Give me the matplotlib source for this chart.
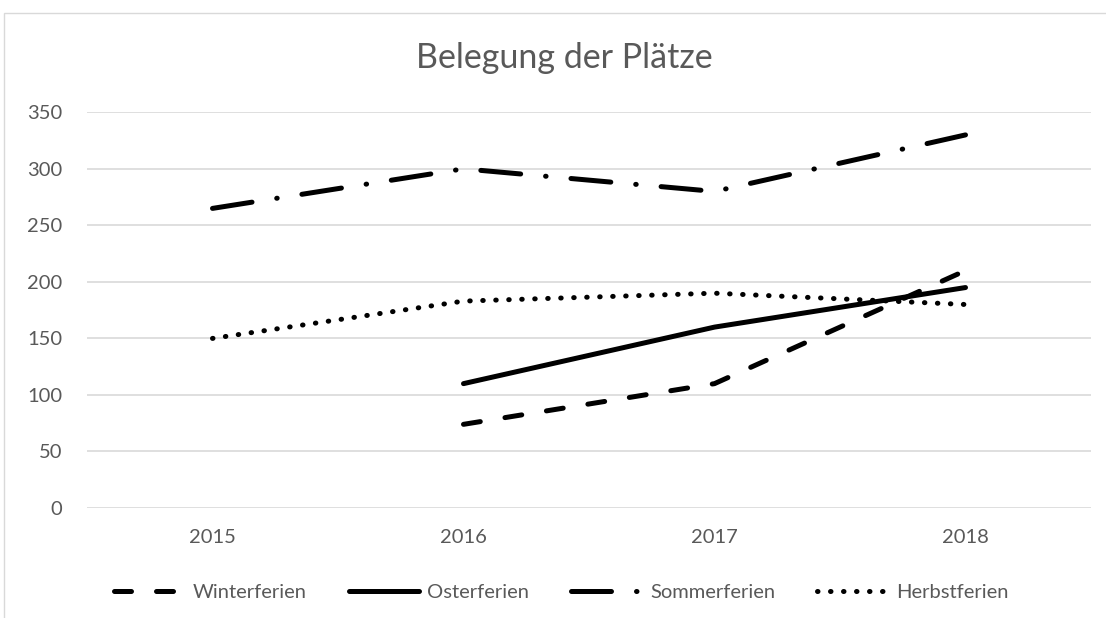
import matplotlib.pyplot as plt
from matplotlib.patches import Rectangle

# Data
years = ['2015', '2016', '2017', '2018']
winter = [None, 74, 110, 210]
ostern = [None, 110, 160, 195]
sommer = [265, 300, 280, 330]
herbst = [150, 183, 190, 180]

grey = '#595959'
grid = '#d9d9d9'
plt.rcParams['font.family'] = ['Lato', 'DejaVu Sans']

fig = plt.figure(figsize=(11.06, 6.18), dpi=100)
fig.patches.append(Rectangle((4 / 1106, -0.1), 1.2, 1.1 - 13 / 618,
                             transform=fig.transFigure, fill=False,
                             edgecolor=grid, linewidth=1))

ax = fig.add_axes([87 / 1106, 1 - 508 / 618, 1004 / 1106, (508 - 112.3) / 618])

x = list(range(len(years)))
lw = 3.6  # ~5 px


def series(vals):
    xs = [i for i, v in zip(x, vals) if v is not None]
    ys = [v for v in vals if v is not None]
    return xs, ys


styles = {
    'Winterferien': (winter, (3.4, 5)),
    'Osterferien': (ostern, None),
    'Sommerferien': (sommer, (8, 5, 0.1, 5)),
    'Herbstferien': (herbst, (0.1, 2.5)),
}
for name, (vals, dash) in styles.items():
    xs, ys = series(vals)
    if dash is None:
        ax.plot(xs, ys, color='black', lw=lw, solid_capstyle='round',
                solid_joinstyle='round', label=name)
    else:
        ax.plot(xs, ys, color='black', lw=lw, dashes=dash, dash_capstyle='round',
                dash_joinstyle='round', label=name)

ax.set_xlim(-0.5, 3.5)
ax.set_ylim(0, 350)
ax.set_yticks(range(0, 351, 50))
ax.set_xticks(x)
ax.set_xticklabels(years)
ax.yaxis.grid(True, color=grid, linewidth=1.2)
ax.set_axisbelow(True)
for s in ax.spines.values():
    s.set_visible(False)
ax.tick_params(length=0, labelsize=14.5, labelcolor=grey)
ax.tick_params(axis='y', pad=18)
ax.tick_params(axis='x', pad=15)

fig.text(564 / 1106, 1 - 58 / 618, 'Belegung der Plätze',
         ha='center', va='center', fontsize=24.5, color=grey)

leg = fig.legend(loc='center', bbox_to_anchor=(561 / 1106, 1 - 592 / 618), ncol=4,
                 frameon=False, fontsize=14.5, handlelength=3.5, columnspacing=2.1,
                 handletextpad=0.4)
for t in leg.get_texts():
    t.set_color(grey)

fig.savefig('out.png', dpi=100)
